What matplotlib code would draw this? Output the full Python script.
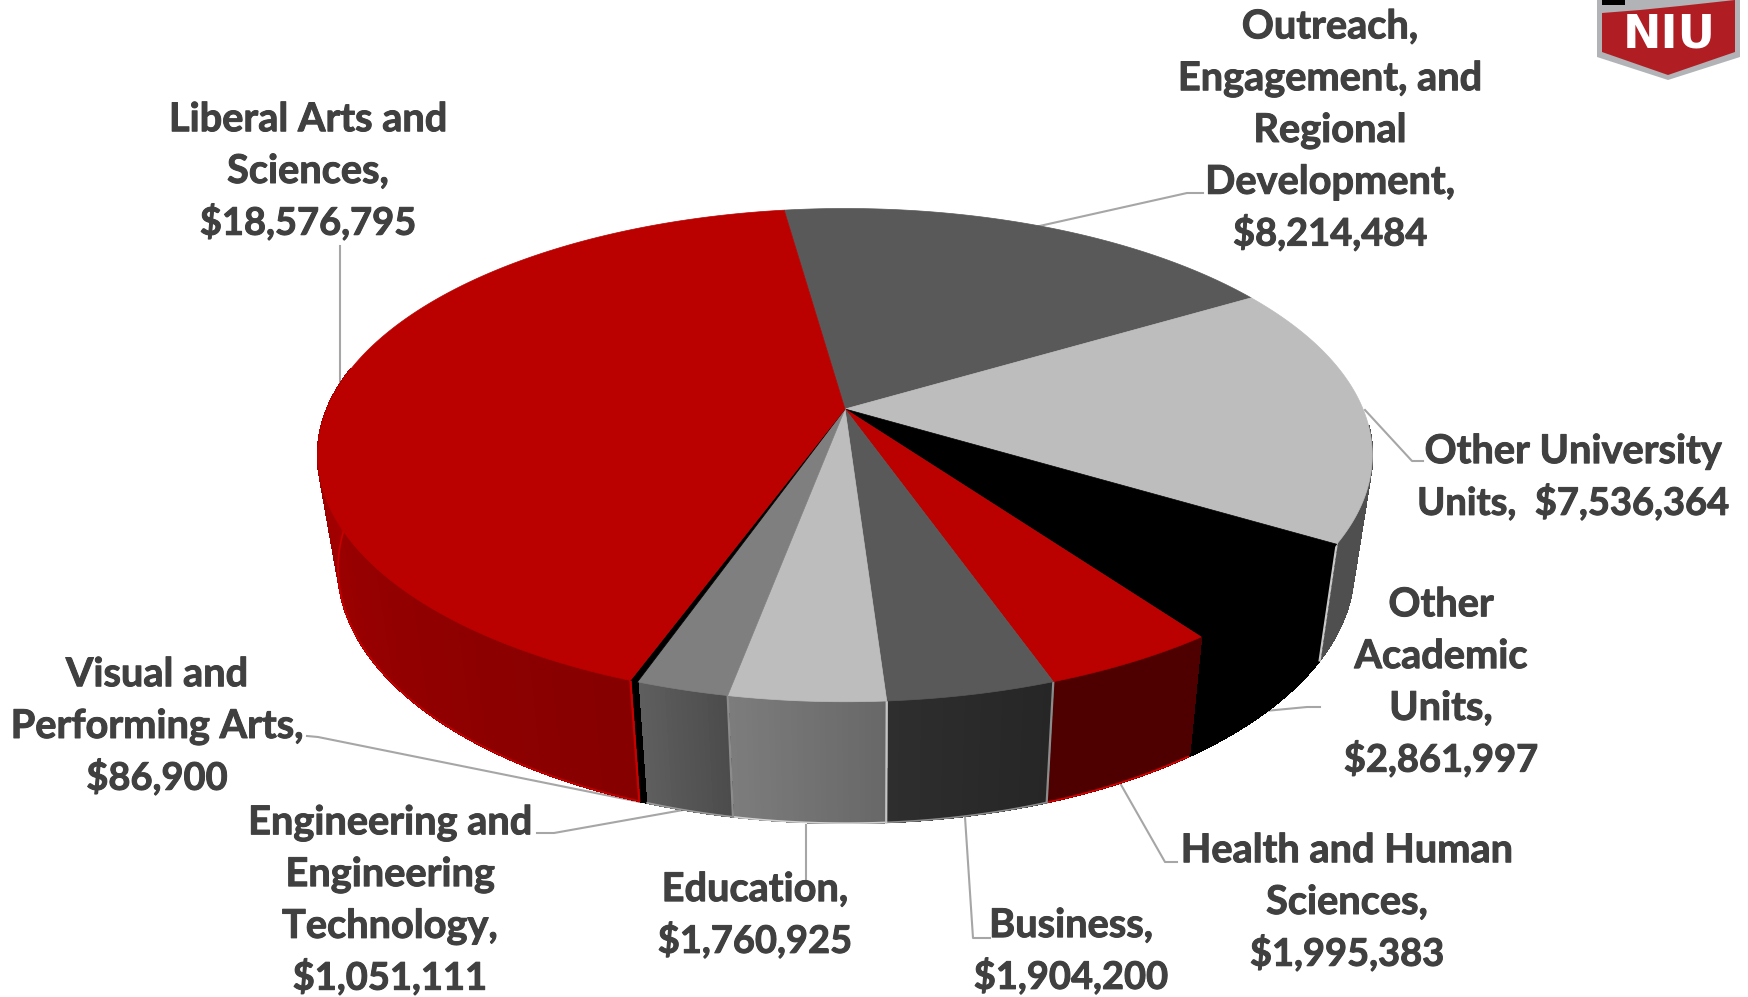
import numpy as np
import matplotlib
matplotlib.use("Agg")
import matplotlib.pyplot as plt
import matplotlib.patheffects as pe
from matplotlib.patches import Polygon

# slices in clockwise order starting at the back of the pie
units = ["Outreach,\nEngagement, and\nRegional\nDevelopment,", "Other University\nUnits, ", "Other\nAcademic\nUnits,",
         "Health and Human\nSciences,", "Business,", "Education,",
         "Engineering and\nEngineering\nTechnology,", "Visual and\nPerforming Arts,", "Liberal Arts and\nSciences,"]
budget = [8214484, 7536364, 2861997, 1995383, 1904200, 1760925, 1051111, 86900, 18576795]
breaks = ["\n", " ", "\n", "\n", "\n", "\n", "\n", "\n", "\n"]

top_colors = ["#595959", "#bdbdbd", "#000000", "#bb0000", "#595959", "#bdbdbd", "#7f7f7f", "#000000", "#bb0000"]
side_left = ["#595959", "#4f4f4f", "#000000", "#4e0000", "#2e2e2e", "#7c7c7c", "#5e5e5e", "#000000", "#a80000"]
side_right = ["#595959", "#4f4f4f", "#000000", "#4e0000", "#262626", "#686868", "#4c4c4c", "#000000", "#860000"]
rim_colors = ["#595959", "#4f4f4f", "#000000", "#e00000", "#8c8c8c", "#d0d0d0", "#9a9a9a", "#000000", "#c80000"]
# seam at the end of each slice on the wall
seam_colors = [None, "#c8c8c8", None, "#8c8c8c", "#c4c4c4", "#8c8c8c", None, "#c80000", None]

label_x = [1330, 1573, 1441, 1347, 1071, 755, 390, 157, 308]
label_y = [128, 475, 680, 900, 949, 913, 898, 724, 169]

leaders = [
    [(1035, 227), (1187, 193), (1203, 193)],
    [(1365, 410), (1412, 461), (1423, 461)],
    [(1265, 711), (1307, 707), (1320, 707)],
    [(1120, 783), (1165, 862), (1177, 862)],
    [(965, 817), (973, 938), (990, 938)],
    [(806, 825), (806, 880)],
    [(683, 810), (554, 833), (537, 833)],
    [(307, 736), (318, 737), (640, 802)],
    [(340, 246), (340, 385)],
]

start_angle = 98.0
persp = 0.187
line_pitch = 51.8


def top_xy(t):
    # perspective view of the upper face
    r = np.radians(t)
    d = 1 + persp * np.sin(r)
    return 845 + 518 * np.cos(r) / d, 409 - 238 * np.sin(r) / d


def low_xy(t):
    r = np.radians(t)
    d = 1 + persp * np.sin(r)
    return 846 + 499 * np.cos(r) / d, 520.6 - 246 * np.sin(r) / d


def mix(c1, c2, f):
    a = np.array(matplotlib.colors.to_rgb(c1))
    b = np.array(matplotlib.colors.to_rgb(c2))
    return a + (b - a) * f


fig = plt.figure(figsize=(17.48, 9.97), dpi=100)
ax = fig.add_axes([0, 0, 1, 1])
ax.set_xlim(0, 1748)
ax.set_ylim(997, 0)
ax.axis("off")

total = sum(budget)
edges = start_angle - np.cumsum([0] + budget) / total * 360

# side wall first, the top face goes over it
for i in range(len(budget)):
    hi, lo = edges[i], edges[i + 1]
    # walls only show on the front half, the rest stays under the top face
    a = min(hi, -4)
    b = max(lo, -190)
    if a <= b:
        continue
    ts = np.linspace(a, b, max(2, int((a - b) * 2) + 1))
    for j in range(len(ts) - 1):
        f = j / max(1, len(ts) - 2)
        col = mix(side_right[i], side_left[i], f)
        x1, y1 = top_xy(ts[j])
        x2, y2 = top_xy(ts[j + 1])
        x3, y3 = low_xy(ts[j + 1])
        x4, y4 = low_xy(ts[j])
        ax.add_patch(Polygon([(x1, y1), (x2, y2), (x3, y3), (x4, y4)], closed=True,
                             fc=col, ec=col, lw=0.8, antialiased=False, zorder=2))
    xs, ys = low_xy(ts)
    ax.plot(xs, ys, color=rim_colors[i], lw=1.2, zorder=3, solid_capstyle="butt")

for i in range(len(budget)):
    if seam_colors[i] is None:
        continue
    xt, yt = top_xy(edges[i + 1])
    xl, yl = low_xy(edges[i + 1])
    ax.plot([xt, xl], [yt, yl], color=seam_colors[i], lw=1.6, zorder=3)

# top face
for i in range(len(budget)):
    ts = np.linspace(edges[i], edges[i + 1], max(3, int(abs(edges[i] - edges[i + 1]) * 2)))
    xs, ys = top_xy(ts)
    pts = [(845, 409)] + list(zip(xs, ys))
    ax.add_patch(Polygon(pts, closed=True, fc=top_colors[i], ec=top_colors[i], lw=0.5, zorder=4))

for pts in leaders:
    ax.plot([p[0] for p in pts], [p[1] for p in pts], color="#a6a6a6", lw=1.5, zorder=1)

# one text per line, multi-line spacing in matplotlib comes out uneven here
for i in range(len(units)):
    txt = units[i] + breaks[i] + "${:,}".format(budget[i])
    lines = txt.split("\n")
    y0 = label_y[i] - (len(lines) - 1) * line_pitch / 2
    for n, line in enumerate(lines):
        # Lato digits run wider than the words
        size = 27.4 if "$" in line else 28.6
        ax.text(label_x[i], y0 + n * line_pitch + 14, line, ha="center", va="baseline", family="Lato",
                weight="bold", fontsize=size, color="#404040", zorder=6,
                path_effects=[pe.withStroke(linewidth=0.7, foreground="#404040")])

# NIU logo in the corner
ax.add_patch(Polygon([(1597, 0), (1597, 57), (1668, 80), (1740, 57), (1740, 0)], closed=True,
                     fc="#b1b3b6", ec="none", zorder=5))
ax.add_patch(Polygon([(1602, 13), (1640, 10), (1680, 6), (1735, 0), (1735, 52), (1668, 75), (1602, 52)], closed=True,
                     fc="#b01e23", ec="none", zorder=6))
ax.add_patch(Polygon([(1602, 0), (1602, 5), (1625, 5), (1625, 0)], closed=True, fc="#000000", ec="none", zorder=6))
ax.text(1669, 35, "NIU", ha="center", va="center", family="DejaVu Sans", weight="bold",
        fontsize=33, color="#ffffff", zorder=7)

fig.savefig("out.png", dpi=100, facecolor="white")
